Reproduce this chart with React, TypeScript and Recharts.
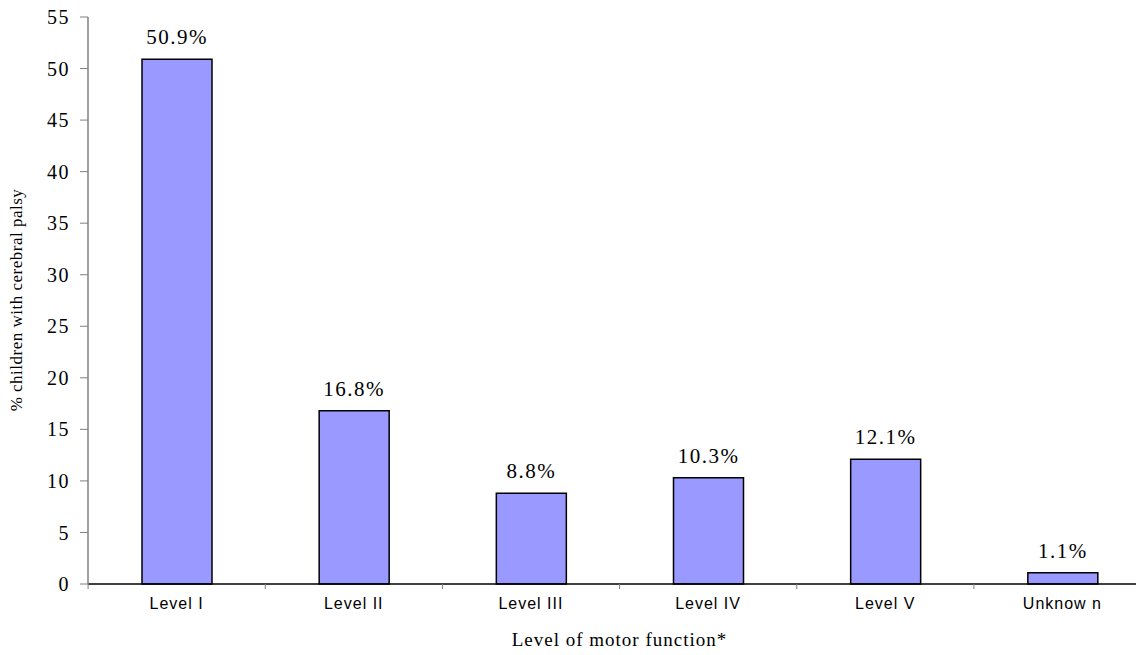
import { BarChart, Bar, XAxis, YAxis, LabelList } from "recharts";

const levels = ["Level I", "Level II", "Level III", "Level IV", "Level V", "Unknow n"];
const percentages = [50.9, 16.8, 8.8, 10.3, 12.1, 1.1];
const yTicks = [0, 5, 10, 15, 20, 25, 30, 35, 40, 45, 50, 55];

const data = levels.map((level, i) => ({ level, value: percentages[i] }));

const SERIF = "'Liberation Serif', 'Times New Roman', serif";
const SANS = "'Liberation Sans', Arial, sans-serif";
const BAND = 177;

// category label at the centre, small tick mark at each band boundary
const CategoryTick = (props: any) => {
  const { x, y, payload, index } = props;
  const last = index === levels.length - 1;
  return (
    <g>
      <line x1={x - BAND / 2} x2={x - BAND / 2} y1={y - 8} y2={y - 3} stroke="#808080" />
      {last && <line x1={x + BAND / 2} x2={x + BAND / 2} y1={y - 8} y2={y - 3} stroke="#808080" />}
      <text x={x} y={y + 17} textAnchor="middle" fontFamily={SANS} fontSize={16} letterSpacing={1} fill="#000">
        {payload.value}
      </text>
    </g>
  );
};

const YTitle = () => {
  const cx = 22;
  const cy = 300;
  return (
    <text x={cx} y={cy} transform={`rotate(-90 ${cx} ${cy})`} textAnchor="middle" fontFamily={SERIF} fontSize={17} letterSpacing={0.5} fill="#000">
      % children with cerebral palsy
    </text>
  );
};

export default function App() {
  return (
    <div style={{ margin: -8, width: 1144, height: 655, overflow: "hidden", background: "#fff" }}>
      <BarChart width={1156} height={655} data={data} margin={{ top: 17, right: 5, bottom: 0, left: 0 }} barSize={70}>
        <XAxis
          dataKey="level"
          height={71}
          axisLine={{ stroke: "#000", strokeWidth: 1.5 }}
          tickLine={false}
          tick={<CategoryTick />}
          interval={0}
          label={{
            value: "Level of motor function*",
            position: "insideBottom",
            offset: 9,
            style: { fontFamily: SERIF, fontSize: 19, letterSpacing: 1, fill: "#000" },
          }}
        />
        <YAxis
          width={88}
          domain={[0, 55]}
          ticks={yTicks}
          interval={0}
          axisLine={{ stroke: "#808080", strokeWidth: 1.5 }}
          tickLine={{ stroke: "#808080" }}
          tickSize={8}
          tickMargin={10}
          tick={{ fontFamily: SERIF, fontSize: 20, letterSpacing: 1.5, fill: "#000" }}
          label={<YTitle />}
        />
        <Bar dataKey="value" fill="#9999FF" stroke="#000" strokeWidth={1.5} isAnimationActive={false}>
          <LabelList
            dataKey="value"
            position="top"
            offset={15}
            formatter={(v: any) => `${v}%`}
            style={{ fontFamily: SERIF, fontSize: 21, letterSpacing: 1.5, fill: "#000" }}
          />
        </Bar>
      </BarChart>
    </div>
  );
}
